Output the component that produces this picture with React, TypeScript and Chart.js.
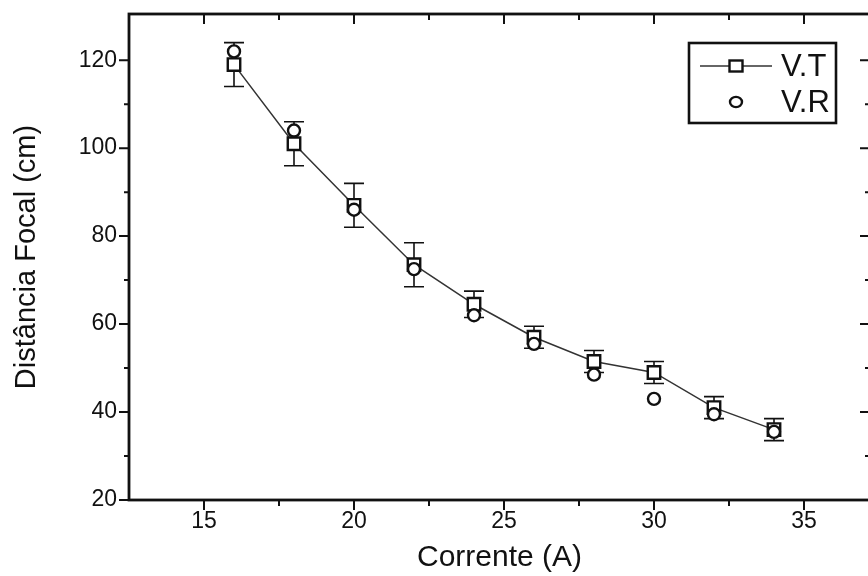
import React, { useEffect, useRef } from "react";
import { Chart, registerables } from "chart.js";

Chart.register(...registerables);

// ---- data ----
const current = [16, 18, 20, 22, 24, 26, 28, 30, 32, 34];
const focalVT = [119, 101, 87, 73.5, 64.5, 57, 51.5, 49, 41, 36];
const focalVR = [122, 104, 86, 72.5, 62, 55.5, 48.5, 43, 39.5, 35.5];
const errorVT = [5, 5, 5, 5, 3, 2.5, 2.5, 2.5, 2.5, 2.5];
const xMajorTicks = [15, 20, 25, 30, 35];
const xMinorTicks = [17.5, 22.5, 27.5, 32.5];
const yMajorTicks = [20, 40, 60, 80, 100, 120];
const yMinorTicks = [30, 50, 70, 90, 110];
const seriesLabels = ["V.T", "V.R"];
const xTitle = "Corrente (A)";
const yTitle = "Distância Focal (cm)";

const INK = "#111";
const FONT = "'Liberation Sans', Arial, sans-serif";

function drawSquare(ctx: CanvasRenderingContext2D, x: number, y: number, w: number, h: number) {
  ctx.fillStyle = "#fff";
  ctx.fillRect(x - w / 2, y - h / 2, w, h);
  ctx.strokeRect(x - w / 2, y - h / 2, w, h);
}
function drawCircle(ctx: CanvasRenderingContext2D, x: number, y: number, r: number) {
  ctx.beginPath();
  ctx.ellipse(x, y, r, r * 0.85, 0, 0, Math.PI * 2);
  ctx.fillStyle = "#fff";
  ctx.fill();
  ctx.stroke();
}

const decorPlugin = {
  id: "decor",
  beforeDatasetsDraw(chart: any) {
    const { ctx, scales } = chart;
    const x = scales.x;
    const y = scales.y;
    ctx.save();
    ctx.strokeStyle = INK;
    ctx.lineWidth = 1.6;
    current.forEach((c, i) => {
      const px = x.getPixelForValue(c);
      const top = y.getPixelForValue(focalVT[i] + errorVT[i]);
      const bot = y.getPixelForValue(focalVT[i] - errorVT[i]);
      ctx.beginPath();
      ctx.moveTo(px, top);
      ctx.lineTo(px, bot);
      ctx.moveTo(px - 10, top);
      ctx.lineTo(px + 10, top);
      ctx.moveTo(px - 10, bot);
      ctx.lineTo(px + 10, bot);
      ctx.stroke();
    });
    ctx.restore();
  },
  afterDraw(chart: any) {
    const { ctx, chartArea: a, scales } = chart;
    const x = scales.x;
    const y = scales.y;
    ctx.save();
    ctx.strokeStyle = INK;
    // frame
    ctx.lineWidth = 2.8;
    ctx.strokeRect(a.left, a.top, a.right - a.left, a.bottom - a.top);
    ctx.lineWidth = 2;
    ctx.beginPath();
    const tick = (vals: number[], len: number) => {
      vals.forEach((v) => {
        const px = x.getPixelForValue(v);
        ctx.moveTo(px, a.bottom);
        ctx.lineTo(px, a.bottom + len);
        ctx.moveTo(px, a.top);
        ctx.lineTo(px, a.top + len);
      });
    };
    tick(xMajorTicks, 10);
    tick(xMinorTicks, 6);
    const ytick = (vals: number[], len: number) => {
      vals.forEach((v) => {
        const py = y.getPixelForValue(v);
        ctx.moveTo(a.left, py);
        ctx.lineTo(a.left - len, py);
        ctx.moveTo(a.right, py);
        ctx.lineTo(a.right - len, py);
      });
    };
    ytick(yMajorTicks, 10);
    ytick(yMinorTicks, 5);
    ctx.stroke();

    // legend
    const bx = 689, by = 43, bw = 147, bh = 80;
    ctx.lineWidth = 2.6;
    ctx.fillStyle = "#fff";
    ctx.fillRect(bx, by, bw, bh);
    ctx.strokeRect(bx, by, bw, bh);
    const r1 = by + 23, r2 = by + 59, mx = 736;
    ctx.strokeStyle = "#333";
    ctx.lineWidth = 1.5;
    ctx.beginPath();
    ctx.moveTo(700, r1);
    ctx.lineTo(772, r1);
    ctx.stroke();
    ctx.strokeStyle = INK;
    ctx.lineWidth = 2.4;
    drawSquare(ctx, mx, r1, 13, 11);
    drawCircle(ctx, mx, r2, 6);
    ctx.fillStyle = INK;
    ctx.font = `31px ${FONT}`;
    ctx.textBaseline = "middle";
    ctx.textAlign = "left";
    ctx.fillText(seriesLabels[0], 781, r1 + 1);
    ctx.fillText(seriesLabels[1], 781, r2 + 1);
    ctx.restore();
  },
};

export default function App() {
  const ref = useRef<HTMLCanvasElement | null>(null);
  useEffect(() => {
    if (!ref.current) return;
    const chart = new Chart(ref.current, {
      type: "line",
      data: {
        datasets: [
          {
            label: seriesLabels[0],
            data: current.map((c, i) => ({ x: c, y: focalVT[i] })),
            borderColor: "#333",
            borderWidth: 1.5,
            pointStyle: "rect",
            pointRadius: 8.8,
            pointBorderWidth: 2.4,
            pointBorderColor: INK,
            pointBackgroundColor: "#fff",
            tension: 0,
            order: 1,
          },
          {
            label: seriesLabels[1],
            data: current.map((c, i) => ({ x: c, y: focalVR[i] })),
            showLine: false,
            pointStyle: "circle",
            pointRadius: 6,
            pointBorderWidth: 2.4,
            pointBorderColor: INK,
            pointBackgroundColor: "#fff",
            order: 0,
          },
        ],
      },
      options: {
        animation: false,
        responsive: false,
        devicePixelRatio: 1,
        layout: { autoPadding: false, padding: { top: 14, right: 10, left: 0, bottom: 0 } },
        plugins: { legend: { display: false }, tooltip: { enabled: false } },
        scales: {
          x: {
            type: "linear",
            min: 12.5,
            max: 37.2,
            grid: { display: false, drawTicks: false },
            border: { display: false },
            ticks: {
              stepSize: 5,
              includeBounds: false,
              padding: 8,
              color: INK,
              font: { family: FONT, size: 23 },
              maxRotation: 0,
            },
            title: {
              display: true,
              text: xTitle,
              color: INK,
              font: { family: FONT, size: 30 },
              padding: { top: 0, bottom: 0 },
            },
            afterFit: (s: any) => {
              s.height = 76;
              s.paddingLeft = 0;
              s.paddingRight = 0;
              s.paddingTop = 0;
              s.paddingBottom = 0;
            },
          },
          y: {
            type: "linear",
            min: 20,
            max: 130.5,
            grid: { display: false, drawTicks: false },
            border: { display: false },
            ticks: {
              stepSize: 20,
              includeBounds: false,
              padding: 12,
              color: INK,
              font: { family: FONT, size: 23 },
            },
            title: {
              display: true,
              text: yTitle,
              color: INK,
              font: { family: FONT, size: 29 },
              padding: { top: 10, bottom: 0 },
            },
            afterFit: (s: any) => {
              s.width = 129;
              s.paddingLeft = 0;
              s.paddingRight = 0;
              s.paddingTop = 0;
              s.paddingBottom = 0;
            },
          },
        },
      },
      plugins: [decorPlugin],
    });
    return () => chart.destroy();
  }, []);
  return (
    <div
      style={{
        position: "absolute",
        left: 0,
        top: 0,
        width: 868,
        height: 576,
        overflow: "hidden",
        background: "#fff",
      }}
    >
      <canvas ref={ref} width={880} height={576} style={{ display: "block" }} />
    </div>
  );
}
